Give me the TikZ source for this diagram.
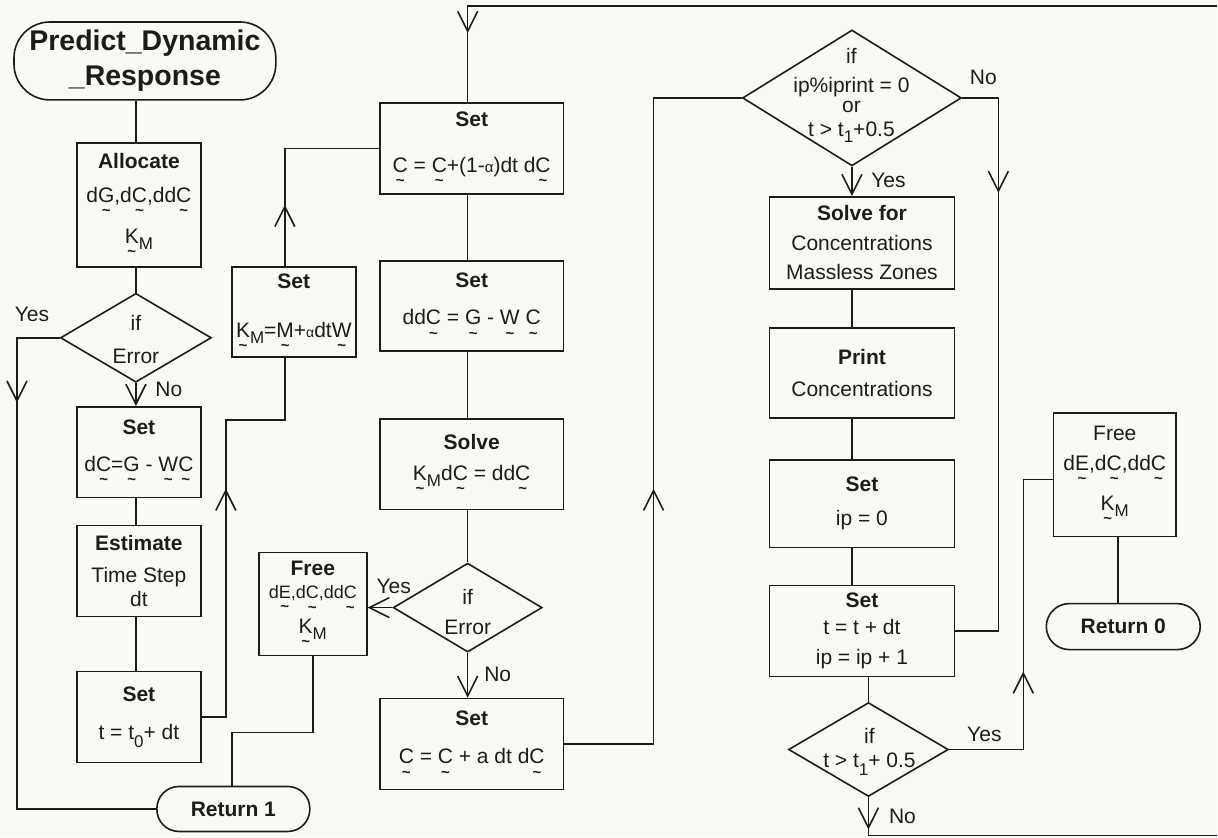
\documentclass[tikz,border=0pt]{standalone}
\usepackage{fontspec}
\setmainfont{Liberation Sans}
\usetikzlibrary{arrows.meta,shapes.geometric}

\definecolor{paper}{RGB}{250,250,245}
\definecolor{ink}{RGB}{28,28,28}

% vector mark: a small tilde set under a letter
\newcommand\tildemark{{\bfseries\fontsize{15}{15}\selectfont\textasciitilde}}
\newcommand\ut[1]{\leavevmode\setbox0\hbox{#1}\vtop{\copy0\nointerlineskip\kern7pt\hbox to\wd0{\hss\tildemark\hss}}}
% lowered index
\newcommand\lo[2][6pt]{\raisebox{-#1}{\fontsize{17}{17}\selectfont #2}}

\begin{document}
\begin{tikzpicture}[x=1pt,y=-1pt,color=ink,line width=1.6pt,
  >={Straight Barb[length=20pt,width=20pt]},
  box/.style={draw, rectangle, inner sep=0pt, align=center, font=\fontsize{21}{30}\selectfont},
  term/.style={draw, rectangle, inner sep=0pt, align=center, font=\bfseries\fontsize{21}{30}\selectfont},
  dia/.style={draw, diamond, inner sep=0pt},
  dtext/.style={align=center, inner sep=0pt, font=\fontsize{21}{24}\selectfont},
  lbl/.style={inner sep=0pt, font=\fontsize{21}{24}\selectfont}]

\path[fill=paper] (0,0) rectangle (1218,838);

% ---------- first column ----------
\node[term, rounded corners=36pt, minimum width=262pt, minimum height=78pt,
      font=\bfseries\fontsize{28.5}{35}\selectfont] (start) at (145,61) {Predict\_Dynamic\\\_Response};
\node[box, minimum width=124pt, minimum height=124pt] (alloc) at (139,205)
  {\textbf{Allocate}\\[4pt] d\ut{G},d\ut{C},dd\ut{C}\\[11pt] \ut{K}\lo{M}};
\node[dia, minimum width=151pt, minimum height=89pt] (d1) at (136,338) {};
\node[dtext] (d1t) at (136,340) {if\\[9pt]Error};
\node[box, minimum width=124pt, minimum height=91pt] (setdc) at (139,452.5)
  {\textbf{Set}\\[7pt] d\ut{C}=\ut{G} - \ut{W}\ut{C}};
\node[box, minimum width=124pt, minimum height=91pt] (estim) at (139,571.5)
  {\textbf{Estimate}\\[2pt]Time Step\\[-6pt]dt};
\node[box, minimum width=124pt, minimum height=91pt] (sett0) at (139,717.5)
  {\textbf{Set}\\[8pt] t = t\lo[8pt]{0}+ dt};
\node[term, rounded corners=22pt, minimum width=153pt, minimum height=45pt] (ret1) at (233.5,809.5) {Return 1};

% ---------- second column ----------
\node[box, minimum width=124pt, minimum height=90pt] (setkm) at (294,312)
  {\textbf{Set}\\[19pt] \ut{K}\lo{M}=\ut{M}+{\fontsize{14}{14}\selectfont α}dt\ut{W}};
\node[box, minimum width=108pt, minimum height=103pt] (free1) at (313,604.5)
  {\textbf{Free}\\[-7pt] {\fontsize{18}{18}\selectfont d\ut{E},d\ut{C},dd\ut{C}}\\[5pt] \ut{K}\lo{M}};

% ---------- third column ----------
\node[box, minimum width=184pt, minimum height=91pt] (setc1) at (472,148.5)
  {\textbf{Set}\\[16pt] \ut{C} = \ut{C}+(1-{\fontsize{15}{15}\selectfont α})dt d\ut{C}};
\node[box, minimum width=184pt, minimum height=90pt] (setddc) at (472,306)
  {\textbf{Set}\\[7pt] dd\ut{C} = \ut{G} - \ut{W} \ut{C}};
\node[box, minimum width=184pt, minimum height=91pt] (solve) at (472,464.5)
  {\textbf{Solve}\\[1pt] \ut{K}\lo{M}d\ut{C} = dd\ut{C}};
\node[dia, minimum width=149pt, minimum height=89pt] (d2) at (468,608) {};
\node[dtext] (d2t) at (468,612) {if\\[6pt]Error};
\node[box, minimum width=184pt, minimum height=91pt] (setc2) at (472,744.5)
  {\textbf{Set}\\[8pt] \ut{C} = \ut{C} + a dt d\ut{C}};

% ---------- fourth column ----------
\node[dia, minimum width=219pt, minimum height=136pt] (d3) at (852.5,98) {};
\node[dtext] (d3t) at (852,95) {if\\[5pt]ip\%iprint = 0\\[-4pt]or\\t > t\lo{1}+0.5};
\node[box, minimum width=185pt, minimum height=92pt] (solvefor) at (862.5,243)
  {\textbf{Solve for}\\Concentrations\\[-1pt]Massless Zones};
\node[box, minimum width=185pt, minimum height=90pt] (print) at (862.5,373)
  {\textbf{Print}\\[2pt]Concentrations};
\node[box, minimum width=185pt, minimum height=88pt] (setip) at (862.5,504)
  {\textbf{Set}\\[4pt]ip = 0};
\node[box, minimum width=185pt, minimum height=91pt] (sett) at (862.5,631.5)
  {\textbf{Set}\\[-3pt]t = t + dt\\ip = ip + 1};
\node[dia, minimum width=160pt, minimum height=94pt] (d4) at (869,750) {};
\node[dtext] (d4t) at (870,752) {if\\t > t\lo[8pt]{1}+ 0.5};
\node[box, minimum width=123pt, minimum height=124pt] (free2) at (1115.5,475)
  {Free\\[0pt] d\ut{E},d\ut{C},dd\ut{C}\\[10pt]\ut{K}\lo{M}};
\node[term, rounded corners=23pt, minimum width=154pt, minimum height=46pt] (ret0) at (1124,627) {Return 0};

% ---------- branch labels ----------
\node[lbl] (l1y) at (32,315) {Yes};
\node[lbl] (l1n) at (169,390) {No};
\node[lbl] (l2y) at (394,587) {Yes};
\node[lbl] (l2n) at (498,675) {No};
\node[lbl] (l3n) at (984,77) {No};
\node[lbl] (l3y) at (889,180) {Yes};
\node[lbl] (l4y) at (985,735) {Yes};
\node[lbl] (l4n) at (903,817) {No};

% ---------- routing points ----------
\coordinate (yesL) at (17,0);
\coordinate (yesLm) at (17,403);
\coordinate (xK) at (285,0);
\coordinate (kstep) at (226,420);
\coordinate (kup) at (226,489);
\coordinate (kup2) at (285,205);
\coordinate (fstep) at (232,733);
\coordinate (xC) at (468,0);
\coordinate (loopin) at (1218,6);
\coordinate (topm) at (468,33);
\coordinate (xR) at (654,0);
\coordinate (rup) at (654,489);
\coordinate (xN) at (999,0);
\coordinate (ndown) at (999,193);
\coordinate (loopout) at (1218,836);
\coordinate (nend) at (869,830);
\coordinate (ystep) at (1024,480);
\coordinate (yup) at (1024,672);
\coordinate (xF) at (1119,0);

% ---------- connectors: first column ----------
\draw (start.south -| d1.north) -- (alloc.north -| d1.north);
\draw (alloc.south -| d1.north) -- (d1.north);
\draw[->] (d1.south) -- (setdc.north -| d1.south);
\draw (setdc.south -| d1.south) -- (estim.north -| d1.south);
\draw (estim.south -| d1.south) -- (sett0.north -| d1.south);
\draw (d1.west) -| (yesL |- ret1.west) -- (ret1.west);
\draw[->] (d1.west -| yesL) -- (yesLm);

% ---------- connectors: second column ----------
\draw (sett0.east) -| (kstep) -| (setkm.south -| xK);
\draw[->] (sett0.east -| kstep) -- (kup);
\draw (setkm.north -| xK) |- (setc1.west);
\draw[->] (setkm.north -| xK) -- (kup2);
\draw (free1.south) |- (fstep) -- (fstep |- ret1.north);

% ---------- connectors: third column ----------
\draw (loopin) -| (setc1.north -| xC);
\draw[->] (loopin -| xC) -- (topm);
\draw (setc1.south -| xC) -- (setddc.north -| xC);
\draw (setddc.south -| xC) -- (solve.north -| xC);
\draw (solve.south -| xC) -- (d2.north);
\draw[->] (d2.south) -- (setc2.north -| d2.south);
\draw[->] (d2.west) -- (free1.east |- d2.west);
\draw (setc2.east) -| (xR |- d3.west) -- (d3.west);
\draw[->] (setc2.east -| xR) -- (rup);

% ---------- connectors: fourth column ----------
\draw[->] (d3.south) -- (solvefor.north -| d3.south);
\draw (solvefor.south -| d3.south) -- (print.north -| d3.south);
\draw (print.south -| d3.south) -- (setip.north -| d3.south);
\draw (setip.south -| d3.south) -- (sett.north -| d3.south);
\draw (sett.south -| d4.north) -- (d4.north);
\draw (d3.east) -| (xN |- sett.east) -- (sett.east);
\draw[->] (d3.east -| xN) -- (ndown);
\draw (d4.south) -- (d4.south |- loopout) -- (loopout);
\draw[->] (d4.south) -- (nend);
\draw (d4.east) -| (ystep) -- (ystep -| free2.west);
\draw[->] (d4.east -| ystep) -- (yup);
\draw (free2.south -| xF) -- (ret0.north -| xF);

\end{tikzpicture}
\end{document}
